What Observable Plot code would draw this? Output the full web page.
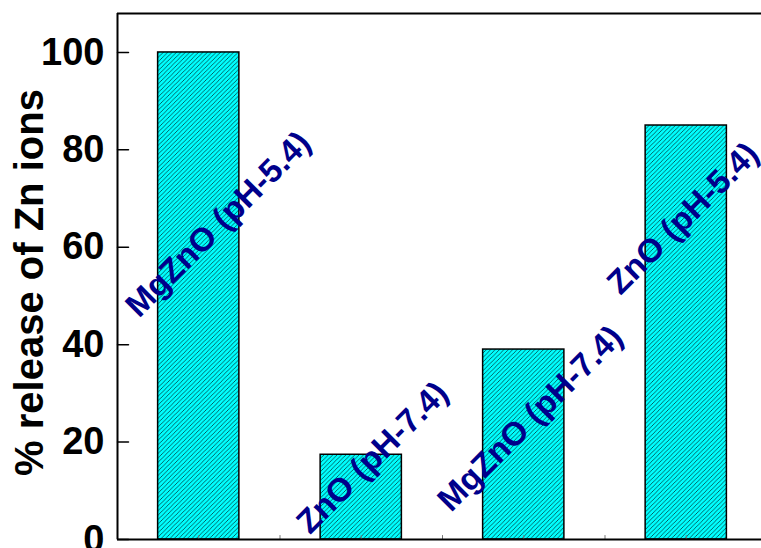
<!DOCTYPE html>
<html>
<head>
<meta charset="utf-8">
<script src="https://cdn.jsdelivr.net/npm/d3@7"></script>
<script src="https://cdn.jsdelivr.net/npm/@observablehq/plot@0.6"></script>
<style>
  html, body { margin: 0; padding: 0; background: #fff; }
  svg { display: block; }
</style>
</head>
<body>
<div id="chart"></div>
<script>
// Zn ion release per sample
const samples = ["MgZnO (pH-5.4)", "ZnO (pH-7.4)", "MgZnO (pH-7.4)", "ZnO (pH-5.4)"];
const release = [100, 17.4, 39, 85];
// where each sample name is written (category offset, % value)
const labelX = [1.12, 2.07, 3.04, 3.98];
const labelY = [64.7, 16.8, 24.8, 65.9];
const yTicks = [0, 20, 40, 60, 80, 100];
const xMinorTicks = [1, 1.5, 2, 2.5, 3, 3.5, 4];
const yLabel = "% release of Zn ions";

const bars = samples.map((name, i) => ({name, x: i + 1, value: release[i]}));
const labels = samples.map((name, i) => ({name, x: labelX[i], y: labelY[i]}));

const font = "Arial, 'Liberation Sans', sans-serif";
const xDomain = [0.5, 4.463];
const yDomain = [0, 108];

// short straight tick drawn by the vector mark
const tickShape = {draw(context, l) { context.moveTo(0, 0); context.lineTo(0, -l); }};

const chart = Plot.plot({
  width: 761,
  height: 548,
  marginLeft: 117,
  marginRight: 0,
  marginTop: 13,
  marginBottom: 9,
  style: {background: "#fff", fontFamily: font, overflow: "visible"},
  x: {domain: xDomain, axis: null},
  y: {domain: yDomain, axis: null},
  marks: [
    Plot.rectY(bars, {
      x1: d => d.x - 0.25, x2: d => d.x + 0.25, y1: 0, y2: "value",
      fill: "url(#hatch)", stroke: "#000", strokeWidth: 1.5
    }),
    Plot.axisY(yTicks, {
      anchor: "left", tickSize: 0, tickPadding: 13,
      fontSize: 38, fontWeight: "bold", fill: "#000", tickFormat: d => d
    }),
    Plot.vector(yTicks, {
      x: xDomain[0], y: d => d, length: 11, rotate: 90, anchor: "start",
      shape: tickShape, stroke: "#000", strokeWidth: 1.5
    }),
    Plot.vector(xMinorTicks, {
      x: d => d, y: 0, length: 4, rotate: 0, anchor: "start",
      shape: tickShape, stroke: "#777", strokeWidth: 1
    }),
    Plot.ruleX([xDomain[0]], {stroke: "#000", strokeWidth: 2}),
    Plot.ruleY([yDomain[0]], {stroke: "#000", strokeWidth: 2}),
    Plot.ruleY([yDomain[1]], {stroke: "#000", strokeWidth: 2}),
    Plot.text(labels, {
      x: "x", y: "y", text: "name", rotate: -45,
      fontSize: 33, fontWeight: "bold", fill: "#00008b",
      textAnchor: "middle", lineAnchor: "middle"
    }),
    Plot.text([yLabel], {
      frameAnchor: "left", text: d => d, rotate: -90,
      dx: -87, dy: 6, fontSize: 40, fontWeight: "bold", fill: "#000",
      textAnchor: "middle", lineAnchor: "middle"
    })
  ]
});

// diagonal "/" hatch used as bar fill
const ns = "http://www.w3.org/2000/svg";
const s = 4.4;
const defs = document.createElementNS(ns, "defs");
const pat = document.createElementNS(ns, "pattern");
pat.setAttribute("id", "hatch");
pat.setAttribute("patternUnits", "userSpaceOnUse");
pat.setAttribute("width", s);
pat.setAttribute("height", s);
const bg = document.createElementNS(ns, "rect");
bg.setAttribute("width", s);
bg.setAttribute("height", s);
bg.setAttribute("fill", "#00ffff");
const path = document.createElementNS(ns, "path");
path.setAttribute("d", `M-1,${s + 1}L${s + 1},-1M${-1 - s},${s + 1}L1,-1M${s - 1},${s + 1}L${2 * s + 1},-1`);
path.setAttribute("stroke", "#000");
path.setAttribute("stroke-width", "0.6");
pat.appendChild(bg);
pat.appendChild(path);
defs.appendChild(pat);
chart.insertBefore(defs, chart.firstChild);

document.getElementById("chart").appendChild(chart);
</script>
</body>
</html>
